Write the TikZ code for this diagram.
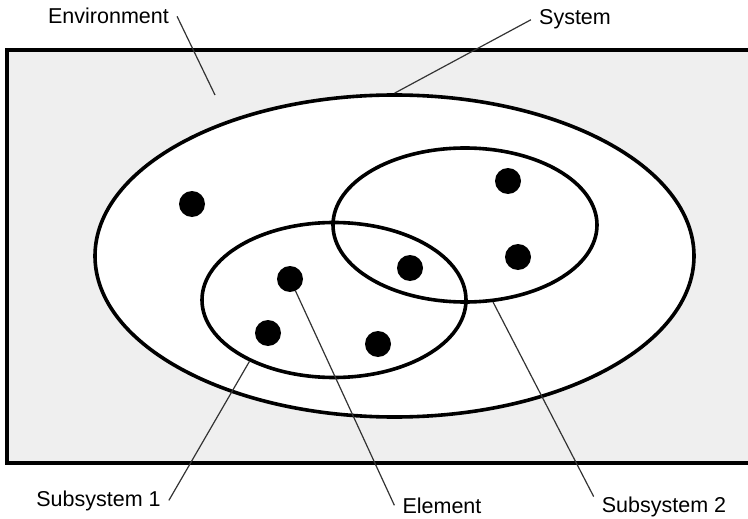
\documentclass[tikz,border=0pt]{standalone}
\usepackage{fontspec}
\setmainfont{Liberation Sans}
\usetikzlibrary{shapes.geometric,positioning}
\definecolor{EnvGray}{HTML}{EFEFEF}

\begin{document}
\begin{tikzpicture}[
  x=1pt, y=-1pt,
  envbox/.style={draw,line width=3.8pt,fill=EnvGray},
  set/.style={draw,ellipse,line width=3.6pt,inner sep=0pt},
  dot/.style={circle,fill=black,minimum size=26pt,inner sep=0pt},
  lbl/.style={anchor=base,font=\fontsize{21.5}{24}\selectfont,inner sep=8pt},
  leader/.style={draw=black!80,line width=1.2pt}
]
  \useasboundingbox (0,0) rectangle (748,519);
  \clip (0,0) rectangle (748,519);

  % environment and sets
  \path[envbox] (7,50) rectangle (765,463);
  \node[set,fill=white,minimum width=599pt,minimum height=322pt] (system) at (394.5,256) {};
  \node[set,minimum width=264pt,minimum height=154pt] (sub2) at (465,225) {};
  \node[set,minimum width=264pt,minimum height=155pt] (sub1) at (334,300) {};

  % elements
  \node[dot] (e1) at (192,204) {};
  \node[dot] (e2) at (508,181) {};
  \node[dot] (e3) at (518,257) {};
  \node[dot] (e4) at (410,268) {};
  \node[dot] (e5) at (290,279) {};
  \node[dot] (e6) at (268,333) {};
  \node[dot] (e7) at (378,344) {};

  % labels
  \node[lbl] (envlbl) at (108.5,24) {Environment};
  \node[lbl] (syslbl) at (575,25) {System};
  \node[lbl] (sub1lbl) at (98.5,506) {Subsystem 1};
  \node[lbl] (elemlbl) at (442,513) {Element};
  \node[lbl] (sub2lbl) at (664,512) {Subsystem 2};
  \coordinate (envpt) at (215,95);

  \draw[leader] (envlbl.east) -- (envpt);
  \draw[leader] (syslbl.west) -- (system.north);
  \draw[leader] (sub1lbl.east) -- (sub1.216);
  \draw[leader] (e5) -- (elemlbl.west);
  \draw[leader] (sub2lbl.172) -- (sub2.290);
\end{tikzpicture}
\end{document}
